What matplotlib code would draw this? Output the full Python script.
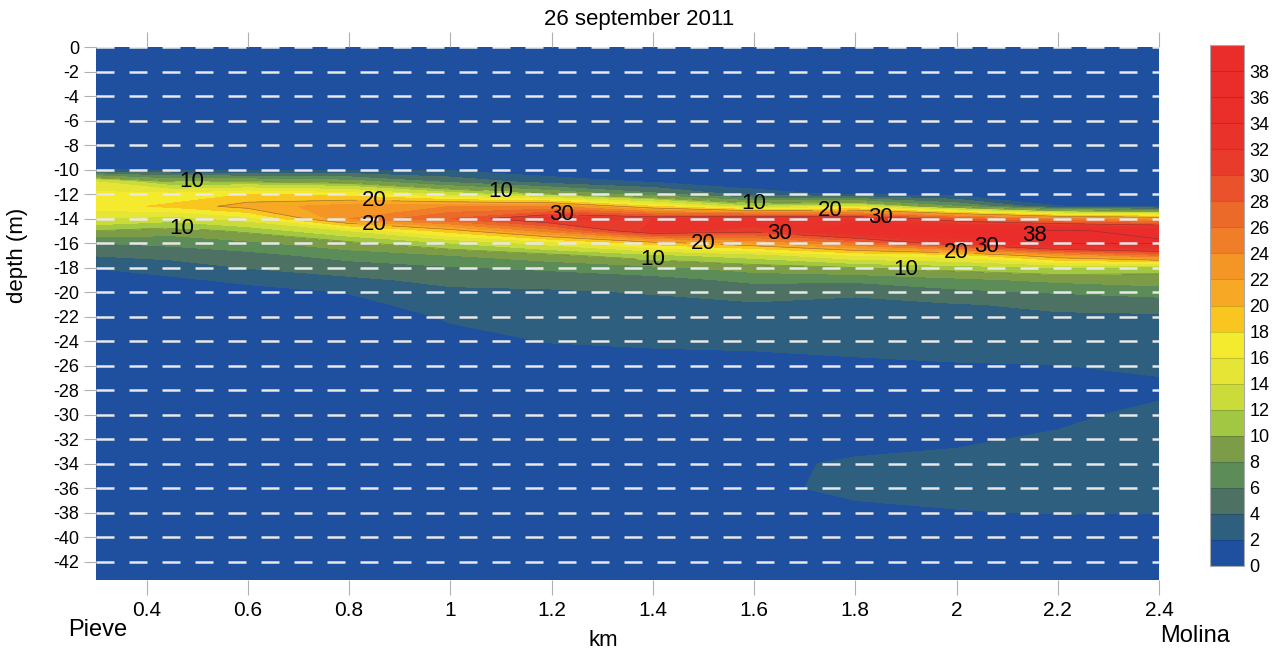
import numpy as np
import matplotlib
matplotlib.use("Agg")
import matplotlib.pyplot as plt

plt.rcParams['font.family'] = ['Liberation Sans', 'DejaVu Sans']
plt.rcParams['axes.unicode_minus'] = False

# stations along the transect (km) and sampling depths (m)
km = [0.3, 0.45, 0.6, 0.8, 1.0, 1.2, 1.4, 1.6, 1.8, 2.0, 2.2, 2.4]
depth = [0, -8, -9, -10, -11, -12, -13, -14, -15, -16, -17, -18, -19, -20,
         -21, -22, -24, -26, -28, -30, -32, -34, -36, -38, -40, -44]

# concentration profiles, one list per station
p030 = [0, 0, 0, 1.8, 14, 16.5, 17, 14, 10, 6, 4.1, 2.1, 0.8, 0, 0, 0, 0, 0, 0, 0, 0, 0, 0, 0, 0, 0]
p045 = [0, 0, 0, 1.6, 10, 16.5, 18.5, 13, 9, 6.5, 4.6, 3, 1.6, 0.5, 0, 0, 0, 0, 0, 0, 0, 0, 0, 0, 0, 0]
p060 = [0, 0, 0, 1.5, 10, 18, 21, 15, 10.5, 7.5, 5.3, 4.1, 2.5, 1.2, 0.3, 0, 0, 0, 0, 0, 0, 0, 0, 0, 0, 0]
p080 = [0, 0, 0, 1.5, 9, 17, 23, 24, 14, 9.5, 6.8, 5.0, 3.6, 2.1, 1.4, 0.5, 0, 0, 0, 0, 0, 0, 0, 0, 0, 0]
p100 = [0, 0, 0, 1.6, 5.5, 13, 24, 28, 19, 12, 8, 5.8, 4.5, 3.6, 2.9, 2.3, 1.2, 0, 0, 0, 0, 0, 0, 0, 0, 0]
p120 = [0, 0, 0, 0.6, 3, 10, 24, 33, 25, 15, 9.5, 6.5, 4.6, 3.8, 3.4, 3.0, 2.1, 0.8, 0, 0, 0, 0, 0, 0, 0, 0]
p140 = [0, 0, 0, 0, 1.8, 6.5, 18, 32, 33, 19, 11.5, 7.5, 5.2, 4.1, 3.6, 3.3, 2.4, 1.0, 0, 0, 0, 0, 0, 0, 0, 0]
p160 = [0, 0, 0, 0, 0.5, 3, 12, 34, 31, 22, 13, 9, 6.5, 4.8, 3.8, 3.3, 2.4, 1.4, 0.5, 0.5, 0.8, 1.5, 1.6, 1.0, 0, 0]
p180 = [0, 0, 0, 0, 0, 1.5, 14, 33, 36, 26, 16, 10, 6.5, 4.2, 3.7, 3.4, 2.9, 1.5, 0.6, 0.6, 1.2, 2.3, 2.4, 1.6, 0.2, 0]
p200 = [0, 0, 0, 0, 0, 1.0, 8, 28, 37, 32, 17, 11, 7.5, 5.5, 3.9, 3.6, 3.2, 1.8, 0.8, 1.0, 1.7, 2.5, 2.6, 1.9, 0.3, 0]
p220 = [0, 0, 0, 0, 0, 0.2, 2.1, 24, 38.5, 38.5, 22, 12, 8.5, 6.2, 4.3, 3.8, 3.4, 1.95, 1.0, 1.5, 2.3, 2.6, 2.7, 2.1, 0.5, 0]
p240 = [0, 0, 0, 0, 0, 0, 1, 22, 37, 38.5, 26, 11, 9, 7, 4.6, 3.8, 3.5, 2.4, 1.5, 2.6, 2.8, 2.9, 2.8, 2.05, 0.5, 0]

levels = list(range(0, 42, 2))
band_colors = ['#1f50a0', '#2f5f7e', '#4d7263', '#5c8c58', '#7c9c48',
               '#a2c843', '#cbdc3a', '#e6e535', '#f4ea2e', '#f9c51f',
               '#f7a824', '#f49626', '#f07d28', '#ec6a29', '#e9522b',
               '#e93b2b', '#e9322a', '#ea2e2a', '#ea2d2a', '#ea2c2b']
line_levels = [10, 20, 30, 38]
sample_depths = list(range(0, -43, -2))
x_ticks = [0.4, 0.6, 0.8, 1.0, 1.2, 1.4, 1.6, 1.8, 2.0, 2.2, 2.4]
y_ticks = list(range(0, -43, -2))
cbar_ticks = list(range(0, 40, 2))

# where the contour labels sit
label_spots = [(0.49, -11.0), (0.47, -14.7), (0.85, -12.4), (0.85, -14.5),
               (1.1, -11.7), (1.22, -13.4), (1.4, -17.4), (1.5, -15.8),
               (1.6, -12.8), (1.65, -15.1), (1.75, -13.2), (1.85, -13.8),
               (1.9, -18.0), (2.0, -16.7), (2.06, -16.1), (2.15, -15.8)]

conc = np.column_stack([p030, p045, p060, p080, p100, p120, p140,
                        p160, p180, p200, p220, p240])

W, H = 1275, 653
fig = plt.figure(figsize=(W / 100, H / 100), dpi=100)
ax = fig.add_axes([96 / W, 1 - 580 / H, (1159 - 96) / W, (580 - 47) / H])

cf = ax.contourf(km, depth, conc, levels=levels, colors=band_colors)
cs = ax.contour(km, depth, conc, levels=line_levels, colors='#333333',
                linewidths=0.5, alpha=0.4)
labels = ax.clabel(cs, fmt='%d', fontsize=16, colors='black', inline=True,
                   manual=label_spots)
for t in labels:
    t.set_rotation(0)
    t.set_alpha(1)
    t.set_color('black')
    t.set_zorder(6)

# sampling depths as white dashes
for d in sample_depths:
    ax.axhline(d, color='#e8e8e8', lw=1.8, ls=(0, (7.2, 6)), zorder=4)

ax.set_xlim(0.3, 2.4)
ax.set_ylim(-43.5, 0)
ax.set_xticks(x_ticks)
ax.set_xticklabels([f'{v:g}' for v in x_ticks])
ax.set_yticks(y_ticks)
ax.set_yticklabels([str(v) for v in y_ticks])
ax.tick_params(axis='x', direction='out', length=11, color='#b0b0b0',
               labelsize=15, top=True, pad=4)
ax.tick_params(axis='y', direction='out', length=9, color='#b0b0b0',
               labelsize=13, pad=3)
for s in ax.spines.values():
    s.set_visible(False)

fig.text(639 / W, 1 - 20 / H, '26 september 2011', ha='center', va='center', fontsize=16)
fig.text(18 / W, 1 - 255 / H, 'depth (m)', rotation=90, ha='center', va='center', fontsize=16)
fig.text(603 / W, 1 - 640 / H, 'km', ha='center', va='center', fontsize=16)
fig.text(68 / W, 1 - 630 / H, 'Pieve', ha='left', va='center', fontsize=17)
fig.text(1160 / W, 1 - 636 / H, 'Molina', ha='left', va='center', fontsize=17)

cax = fig.add_axes([1210 / W, 1 - 566 / H, 34 / W, (566 - 45) / H])
cb = fig.colorbar(cf, cax=cax, ticks=cbar_ticks, drawedges=True)
cb.outline.set_edgecolor('#aaaaaa')
cb.outline.set_linewidth(0.8)
cb.dividers.set_color((0, 0, 0, 0.15))
cb.dividers.set_linewidth(0.8)
cax.set_yticklabels([str(v) for v in cbar_ticks])
cax.tick_params(length=0, labelsize=13, pad=4)

fig.savefig('out.png', dpi=100)
